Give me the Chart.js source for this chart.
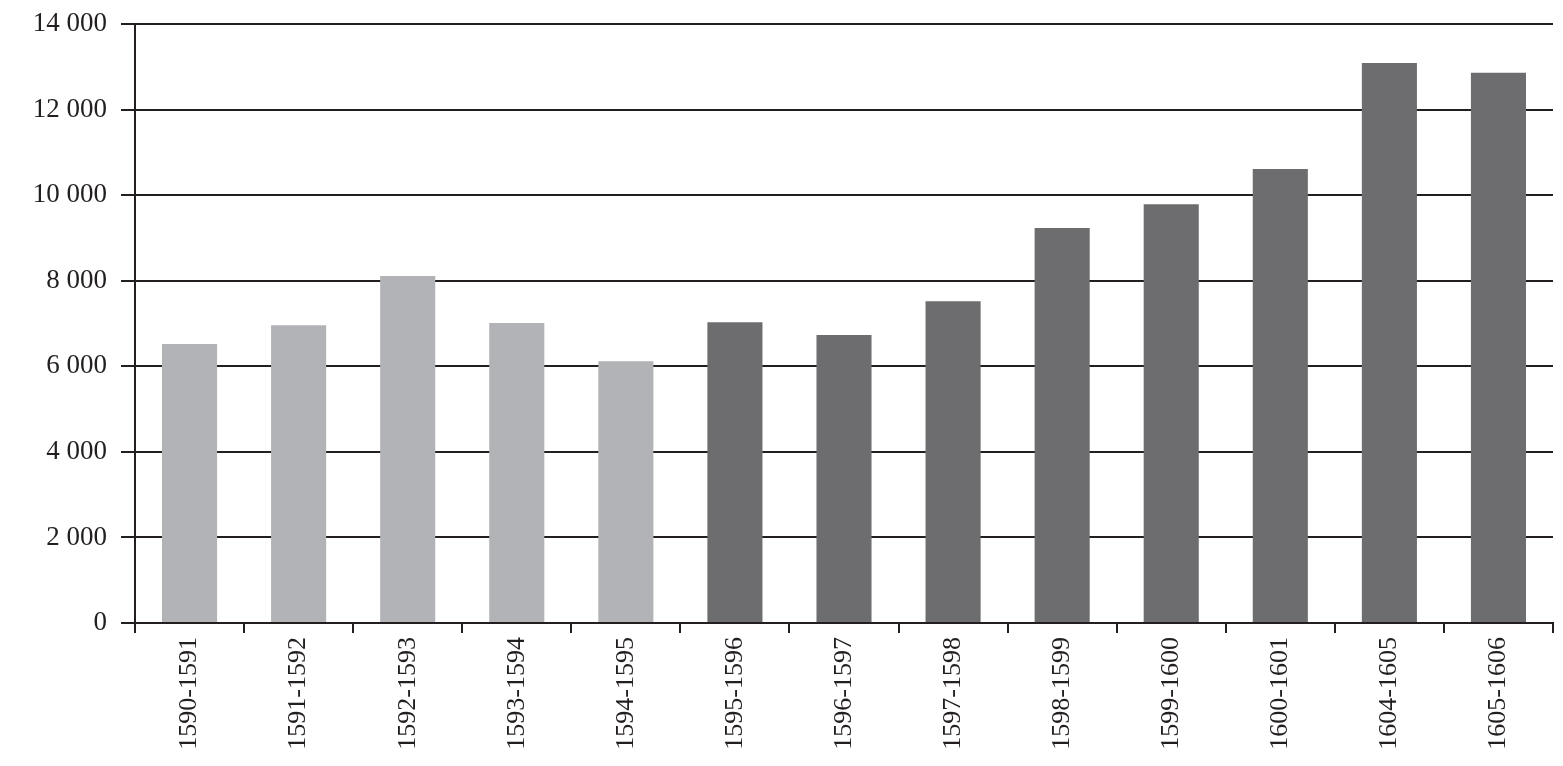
<!DOCTYPE html>
<html>
<head>
<meta charset="utf-8">
<script src="https://cdn.jsdelivr.net/npm/chart.js@4/dist/chart.umd.min.js"></script>
<style>
html,body{margin:0;padding:0;background:#fff;}
#wrap{width:1563px;height:766px;position:relative;}
</style>
</head>
<body>
<div id="wrap"><canvas id="c"></canvas></div>
<script>
const categories = ["1590-1591","1591-1592","1592-1593","1593-1594","1594-1595","1595-1596","1596-1597","1597-1598","1598-1599","1599-1600","1600-1601","1604-1605","1605-1606"];
const values = [6520, 6960, 8110, 7010, 6120, 7030, 6730, 7520, 9230, 9790, 10610, 13090, 12860];
const yTicks = [0, 2000, 4000, 6000, 8000, 10000, 12000, 14000];
const firstGroupCount = 5;

const lightColor = "#b2b3b6";
const darkColor = "#6d6d6f";
const ink = "#231f20";
const barColors = categories.map((c, i) => i < firstGroupCount ? lightColor : darkColor);

function fmt(v){ return String(v).replace(/\B(?=(\d{3})+(?!\d))/g, " "); }

new Chart(document.getElementById("c"), {
  type: "bar",
  data: {
    labels: categories,
    datasets: [{
      data: values,
      backgroundColor: barColors,
      borderWidth: 0,
      barPercentage: 0.505,
      categoryPercentage: 1.0
    }]
  },
  options: {
    responsive: true,
    maintainAspectRatio: false,
    animation: false,
    layout: { padding: { left: 0, right: 10, top: 24, bottom: 0 } },
    plugins: { legend: { display: false }, tooltip: { enabled: false } },
    scales: {
      x: {
        offset: true,
        grid: { display: true, drawOnChartArea: false, drawTicks: true, tickLength: 10, offset: true, color: ink, lineWidth: 2 },
        border: { display: true, color: ink, width: 2 },
        ticks: { maxRotation: 90, minRotation: 90, color: ink, padding: 4, font: { family: "Liberation Serif", size: 26 } },
        afterFit: s => { s.height = 143; }
      },
      y: {
        min: 0, max: 14000,
        afterBuildTicks: s => { s.ticks = yTicks.map(v => ({ value: v })); },
        grid: { color: ink, lineWidth: 2, tickLength: 14 },
        border: { display: true, color: ink, width: 2 },
        ticks: { color: ink, padding: 14, callback: v => fmt(v), font: { family: "Liberation Serif", size: 27 } },
        afterFit: s => { s.width = 135; s.paddingTop = 0; s.paddingBottom = 0; }
      }
    }
  }
});
</script>
</body>
</html>
